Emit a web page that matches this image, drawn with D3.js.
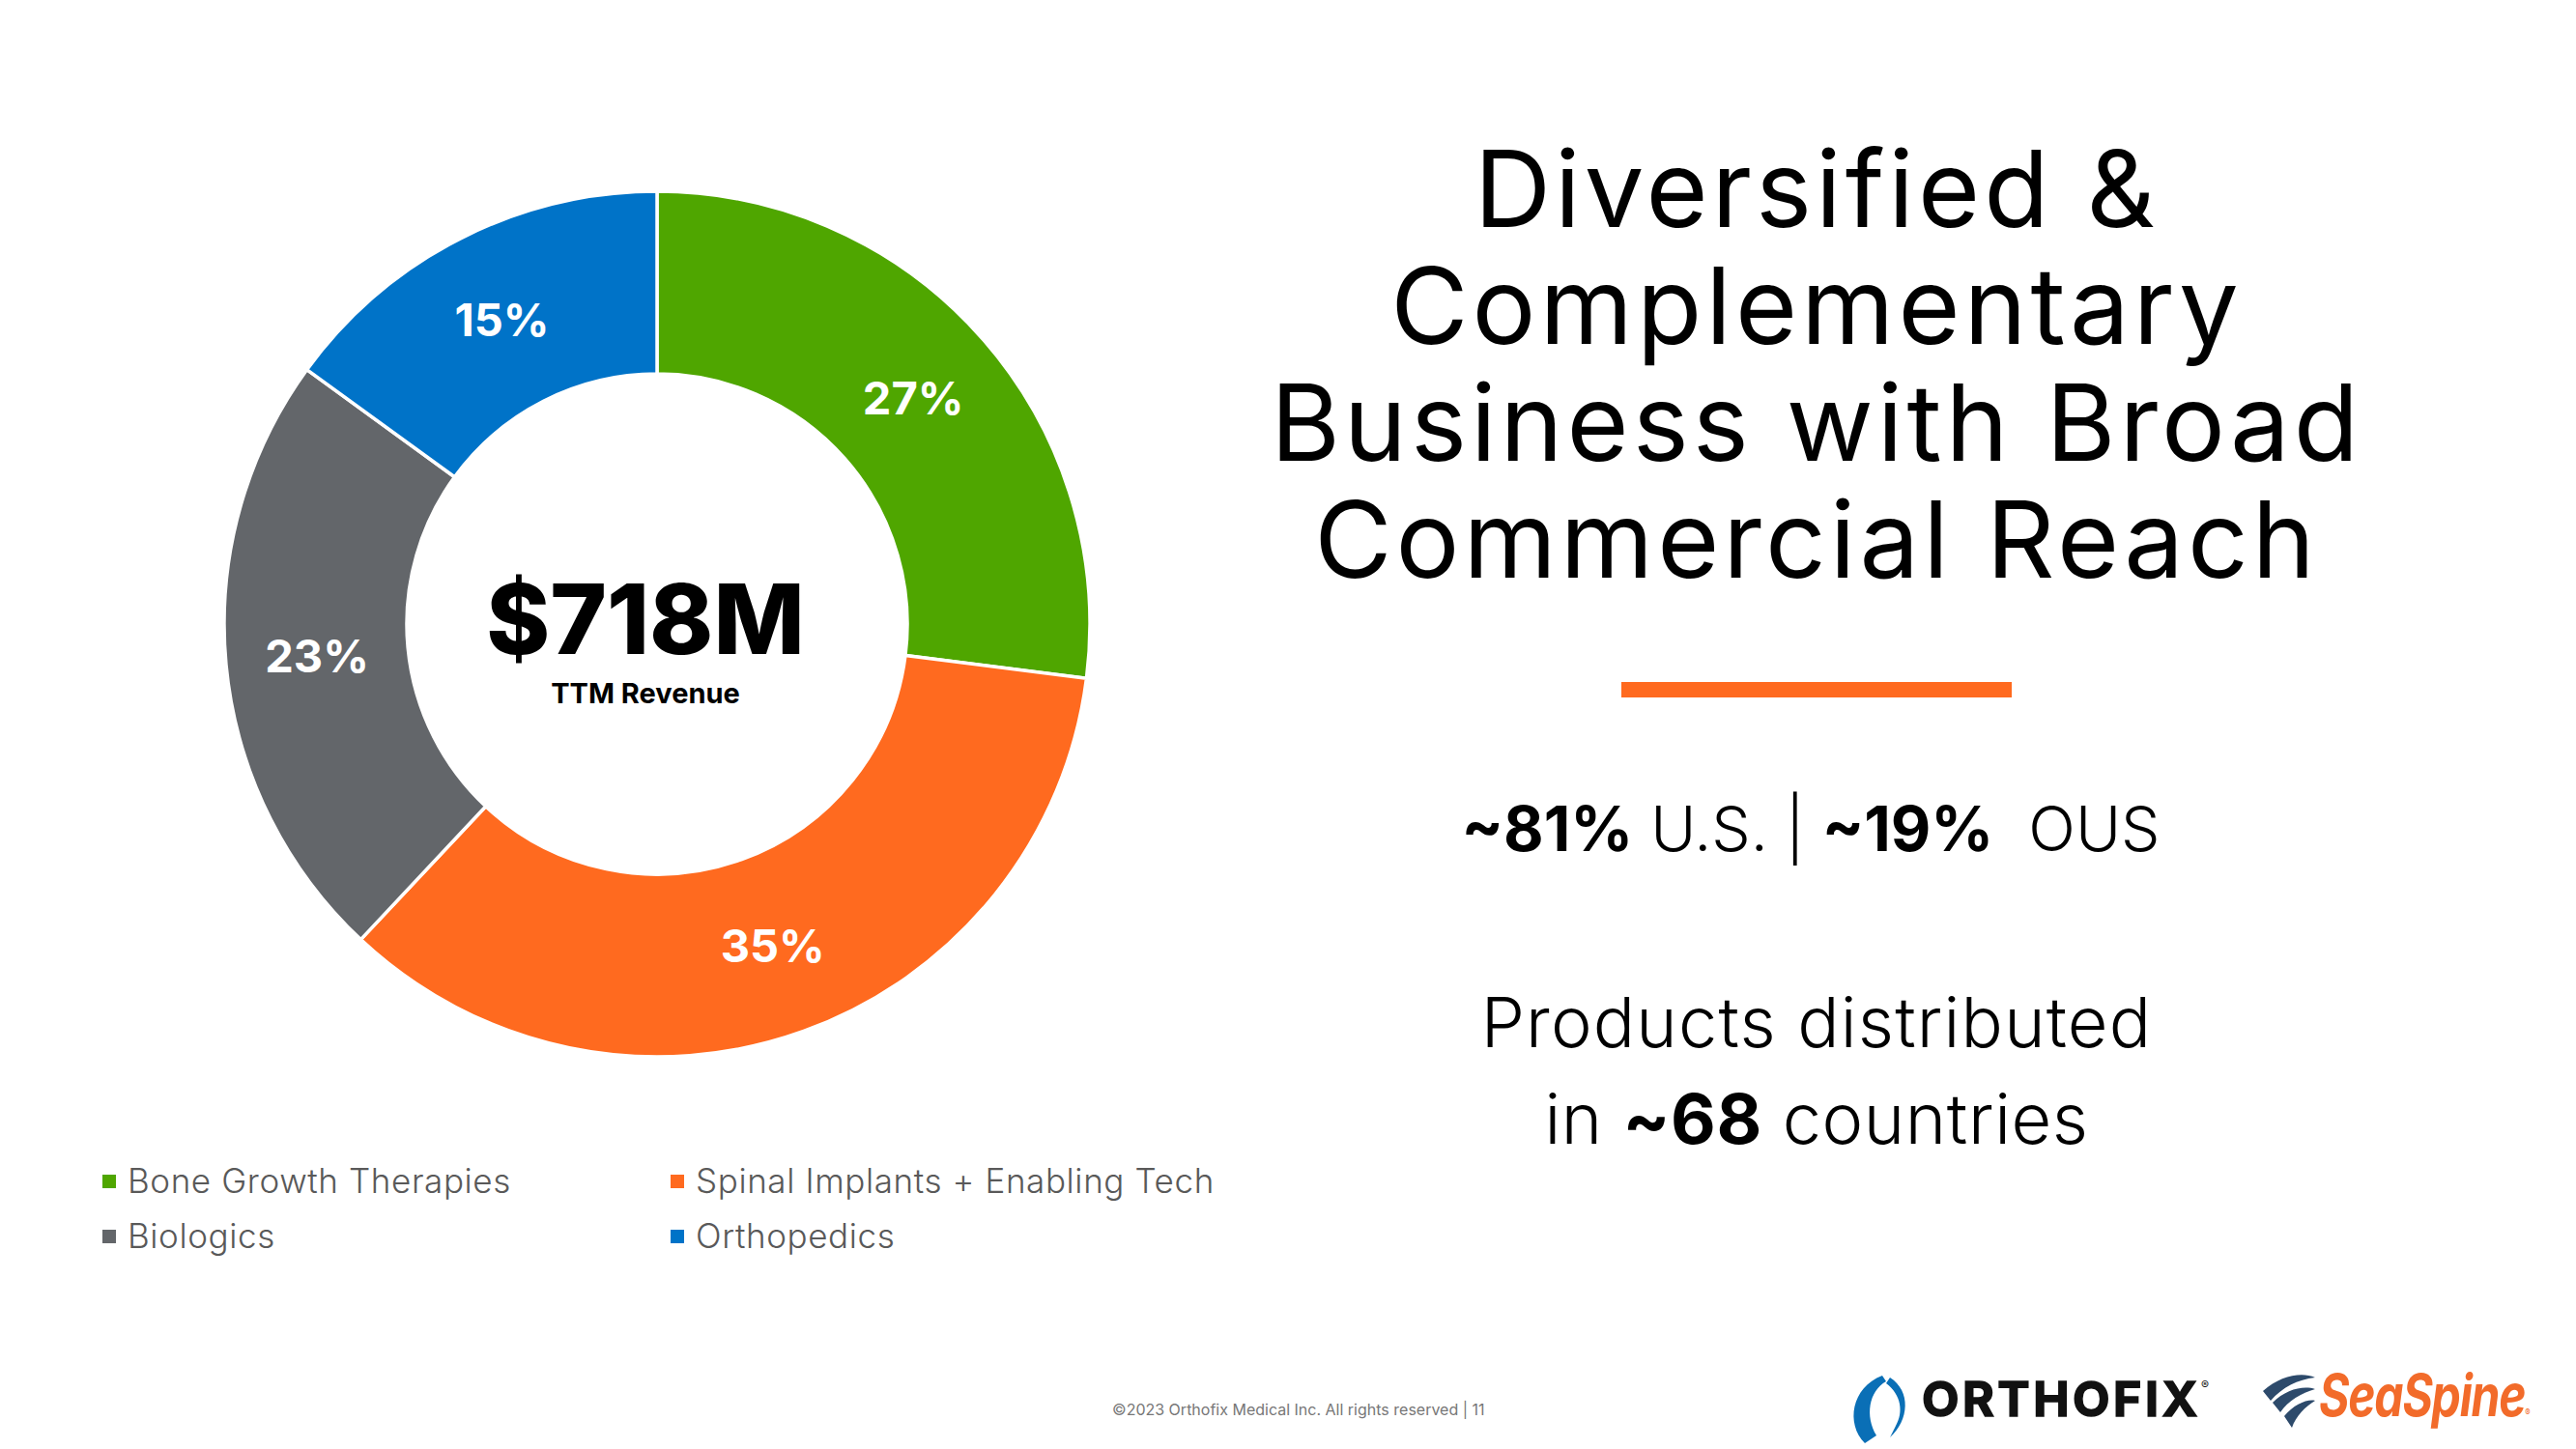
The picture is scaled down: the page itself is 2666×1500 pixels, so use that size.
<!DOCTYPE html>
<html>
<head>
<meta charset="utf-8">
<script src="https://cdn.jsdelivr.net/npm/d3@7"></script>
<style>
  body { margin: 0; background: #fff; }
  text { font-family: Inter, "Open Sans", sans-serif; }
</style>
</head>
<body>
<div id="vis"></div>
<script>
const FRAME_WIDTH = 2666;
const FRAME_HEIGHT = 1500;

// revenue mix
const categories = ['Bone Growth Therapies', 'Spinal Implants + Enabling Tech', 'Biologics', 'Orthopedics'];
const shares = [27, 35, 23, 15];
const colors = ['#4fa600', '#ff6a1f', '#63666a', '#0073c8'];

const totalLabel = '$718M';
const totalSub = 'TTM Revenue';
const titleLines = ['Diversified &', 'Complementary', 'Business with Broad', 'Commercial Reach'];

const CENTER = {x: 680, y: 646};
const OUTER_R = 448;
const INNER_R = 259;

const FRAME = d3.select('#vis')
  .append('svg')
    .attr('width', FRAME_WIDTH)
    .attr('height', FRAME_HEIGHT);

FRAME.append('rect')
  .attr('width', FRAME_WIDTH)
  .attr('height', FRAME_HEIGHT)
  .attr('fill', '#fff');

// donut
const pie = d3.pie().sort(null).value((d) => d.value);
const arc = d3.arc().innerRadius(INNER_R).outerRadius(OUTER_R);

const slices = pie(categories.map((c, i) => ({name: c, value: shares[i], color: colors[i]})));

const donut = FRAME.append('g')
  .attr('transform', 'translate(' + CENTER.x + ',' + CENTER.y + ')');

donut.selectAll('path')
  .data(slices)
  .enter()
  .append('path')
    .attr('d', arc)
    .attr('fill', (d) => d.data.color)
    .attr('stroke', '#fff')
    .attr('stroke-width', 3.5);

donut.selectAll('.pct')
  .data(slices)
  .enter()
  .append('text')
    .attr('class', 'pct')
    .attr('x', (d) => arc.centroid(d)[0])
    .attr('y', (d) => arc.centroid(d)[1])
    .attr('dy', '0.36em')
    .attr('text-anchor', 'middle')
    .attr('fill', '#fff')
    .attr('font-size', 47)
    .attr('font-weight', 700)
    .text((d) => d.data.value + '%');

donut.append('text')
  .attr('x', -12)
  .attr('y', 31)
  .attr('text-anchor', 'middle')
  .attr('font-size', 100)
  .attr('font-weight', 800)
  .attr('fill', '#000')
  .text(totalLabel);

donut.append('text')
  .attr('x', -12)
  .attr('y', 82)
  .attr('text-anchor', 'middle')
  .attr('font-size', 29)
  .attr('font-weight', 700)
  .attr('fill', '#000')
  .text(totalSub);

// legend
const legend = FRAME.selectAll('.legend')
  .data(categories)
  .enter()
  .append('g')
    .attr('class', 'legend')
    .attr('transform', (d, i) => 'translate(' + (106 + (i % 2) * 588) + ',' + (1235 + Math.floor(i / 2) * 57) + ')');

legend.append('rect')
  .attr('x', 0)
  .attr('y', -19)
  .attr('width', 14)
  .attr('height', 14)
  .attr('fill', (d, i) => colors[i]);

legend.append('text')
  .attr('x', 26)
  .attr('y', 0)
  .attr('font-size', 35)
  .attr('font-weight', 300)
  .attr('letter-spacing', 0.6)
  .attr('fill', '#595959')
  .text((d) => d);

// right-hand text
const TX = 1880;

const title = FRAME.append('text')
  .attr('x', TX)
  .attr('y', 235)
  .attr('text-anchor', 'middle')
  .attr('font-size', 110)
  .attr('font-weight', 400)
  .attr('letter-spacing', 4)
  .attr('fill', '#000');

title.selectAll('tspan')
  .data(titleLines)
  .enter()
  .append('tspan')
    .attr('x', TX)
    .attr('y', (d, i) => 235 + i * 121)
    .text((d) => d);

FRAME.append('rect')
  .attr('x', 1678)
  .attr('y', 706)
  .attr('width', 404)
  .attr('height', 16)
  .attr('fill', '#ff6a1f');

const line1 = FRAME.append('text')
  .attr('x', TX - 6)
  .attr('y', 881)
  .attr('text-anchor', 'middle')
  .attr('font-size', 64)
  .attr('fill', '#000');
line1.append('tspan').attr('font-weight', 700).text('~81%');
line1.append('tspan').attr('font-weight', 300).text(' U.S. | ');
line1.append('tspan').attr('font-weight', 700).text('~19%');
line1.append('tspan').attr('font-weight', 300).attr('xml:space', 'preserve').text('  OUS');

FRAME.append('text')
  .attr('x', TX)
  .attr('y', 1084)
  .attr('text-anchor', 'middle')
  .attr('font-size', 72)
  .attr('font-weight', 300)
  .attr('letter-spacing', 1.2)
  .attr('fill', '#000')
  .text('Products distributed');

const line3 = FRAME.append('text')
  .attr('x', TX)
  .attr('y', 1184)
  .attr('text-anchor', 'middle')
  .attr('font-size', 72)
  .attr('letter-spacing', 0.6)
  .attr('fill', '#000');
line3.append('tspan').attr('font-weight', 300).text('in ');
line3.append('tspan').attr('font-weight', 700).text('~68');
line3.append('tspan').attr('font-weight', 300).text(' countries');

// footer
FRAME.append('text')
  .attr('x', 1151)
  .attr('y', 1465)
  .attr('font-family', '"Liberation Sans Narrow", "Liberation Sans", sans-serif')
  .attr('font-size', 16)
  .attr('fill', '#777')
  .text('©2023 Orthofix Medical Inc. All rights reserved  |  11');

// logos
const logo = FRAME.append('g');
logo.append('path')
  .attr('d', 'M1948,1424 C1916,1436 1910,1474 1930,1494 L1942,1486 C1930,1466 1934,1440 1952,1430 Z')
  .attr('fill', '#0a6fb6');
logo.append('path')
  .attr('d', 'M1956,1426 C1978,1440 1976,1470 1956,1488 L1962,1476 C1970,1462 1968,1444 1952,1432 Z')
  .attr('fill', '#0a6fb6');

const ortho = logo.append('text')
  .attr('x', 1989)
  .attr('y', 1466)
  .attr('font-family', '"Liberation Sans", Arial, sans-serif')
  .attr('font-size', 50)
  .attr('font-weight', 700)
  .attr('fill', '#111');
ortho.append('tspan')
  .attr('letter-spacing', 3.5)
  .attr('stroke', '#111')
  .attr('stroke-width', 1.5)
  .text('ORTHOFIX');
ortho.append('tspan')
  .attr('font-size', 12)
  .attr('font-weight', 400)
  .attr('dy', -28)
  .text('®');

logo.append('path')
  .attr('d', 'M2342,1440 C2360,1424 2382,1420 2396,1426 C2378,1428 2362,1436 2350,1450 Z M2352,1452 C2366,1438 2384,1434 2396,1438 C2382,1442 2368,1450 2360,1462 Z M2364,1466 C2374,1454 2388,1448 2396,1450 C2386,1456 2376,1466 2372,1478 Z')
  .attr('fill', '#2d4a6b');

const sea = logo.append('g')
  .attr('transform', 'translate(2400,1466) scale(0.8,1)');
const seaText = sea.append('text')
  .attr('x', 0)
  .attr('y', 0)
  .attr('font-family', '"Liberation Sans", Arial, sans-serif')
  .attr('font-size', 60)
  .attr('font-weight', 700)
  .attr('font-style', 'italic')
  .attr('fill', '#f26b2a');
seaText.append('tspan')
  .attr('letter-spacing', -1.5)
  .text('SeaSpine');
seaText.append('tspan')
  .attr('font-size', 10)
  .attr('font-style', 'normal')
  .attr('font-weight', 400)
  .text('®');
</script>
</body>
</html>
